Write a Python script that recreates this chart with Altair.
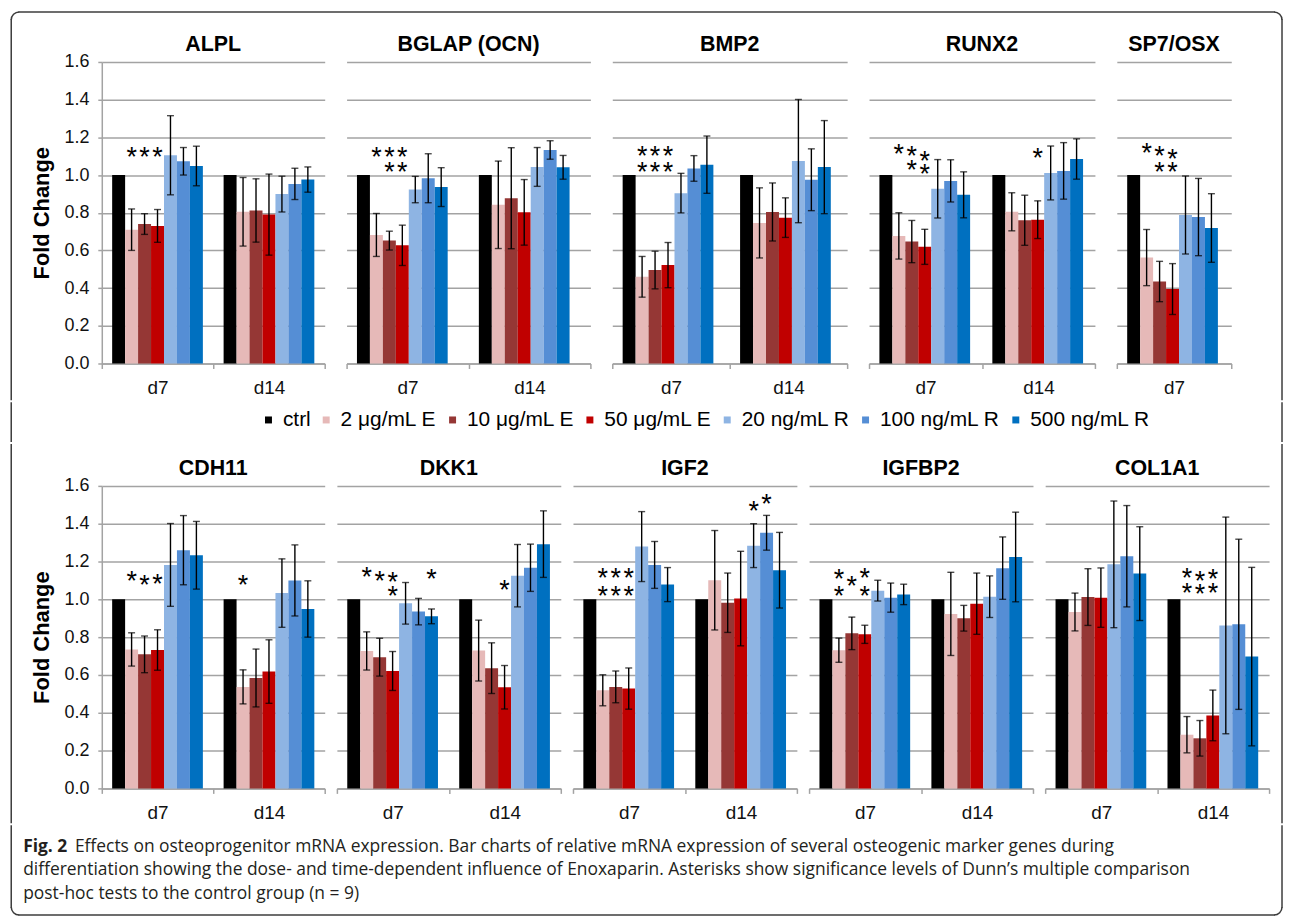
import math
import altair as alt
import pandas as pd

# ---------------- data ----------------
TREATMENTS = ["ctrl", "2 μg/mL E", "10 μg/mL E", "50 μg/mL E",
              "20 ng/mL R", "100 ng/mL R", "500 ng/mL R"]
COLORS = ["#000000", "#E6B9B8", "#953735", "#C00000", "#8EB4E3", "#558ED5", "#0070C0"]

GENES_TOP = ["ALPL", "BGLAP (OCN)", "BMP2", "RUNX2", "SP7/OSX"]
GENES_BOTTOM = ["CDH11", "DKK1", "IGF2", "IGFBP2", "COL1A1"]
Y_TICKS = [0.0, 0.2, 0.4, 0.6, 0.8, 1.0, 1.2, 1.4, 1.6]

ALPL_D7 = [1.0, 0.71, 0.74, 0.73, 1.105, 1.073, 1.048]
ALPL_D7_ERR = [0, 0.11, 0.055, 0.087, 0.21, 0.073, 0.105]
ALPL_D14 = [1.0, 0.805, 0.812, 0.79, 0.899, 0.953, 0.976]
ALPL_D14_ERR = [0, 0.182, 0.168, 0.215, 0.095, 0.083, 0.067]

BGLAP_D7 = [1.0, 0.682, 0.652, 0.627, 0.923, 0.983, 0.936]
BGLAP_D7_ERR = [0, 0.114, 0.05, 0.107, 0.07, 0.13, 0.103]
BGLAP_D14 = [1.0, 0.842, 0.877, 0.802, 1.043, 1.133, 1.041]
BGLAP_D14_ERR = [0, 0.232, 0.268, 0.174, 0.103, 0.049, 0.063]

BMP2_D7 = [1.0, 0.46, 0.496, 0.522, 0.904, 1.035, 1.055]
BMP2_D7_ERR = [0, 0.108, 0.1, 0.12, 0.105, 0.068, 0.152]
BMP2_D14 = [1.0, 0.746, 0.804, 0.774, 1.074, 0.975, 1.042]
BMP2_D14_ERR = [0, 0.186, 0.154, 0.105, 0.327, 0.164, 0.247]

RUNX2_D7 = [1.0, 0.677, 0.647, 0.619, 0.927, 0.969, 0.895]
RUNX2_D7_ERR = [0, 0.123, 0.112, 0.093, 0.155, 0.112, 0.122]
RUNX2_D14 = [1.0, 0.805, 0.76, 0.763, 1.011, 1.022, 1.085]
RUNX2_D14_ERR = [0, 0.101, 0.133, 0.1, 0.143, 0.15, 0.107]

SP7_D7 = [1.0, 0.562, 0.435, 0.395, 0.788, 0.777, 0.719]
SP7_D7_ERR = [0, 0.149, 0.107, 0.135, 0.207, 0.205, 0.182]

CDH11_D7 = [1.0, 0.735, 0.709, 0.732, 1.182, 1.26, 1.233]
CDH11_D7_ERR = [0, 0.088, 0.097, 0.107, 0.219, 0.183, 0.179]
CDH11_D14 = [1.0, 0.537, 0.584, 0.618, 1.033, 1.1, 0.949]
CDH11_D14_ERR = [0, 0.09, 0.153, 0.168, 0.181, 0.188, 0.149]

DKK1_D7 = [1.0, 0.727, 0.694, 0.621, 0.979, 0.935, 0.91]
DKK1_D7_ERR = [0, 0.101, 0.1, 0.103, 0.11, 0.07, 0.039]
DKK1_D14 = [1.0, 0.729, 0.636, 0.535, 1.125, 1.167, 1.292]
DKK1_D14_ERR = [0, 0.161, 0.134, 0.115, 0.165, 0.125, 0.176]

IGF2_D7 = [1.0, 0.519, 0.537, 0.528, 1.279, 1.182, 1.078]
IGF2_D7_ERR = [0, 0.082, 0.084, 0.109, 0.185, 0.124, 0.09]
IGF2_D14 = [1.0, 1.101, 0.982, 1.004, 1.284, 1.352, 1.154]
IGF2_D14_ERR = [0, 0.263, 0.157, 0.25, 0.116, 0.092, 0.2]

IGFBP2_D7 = [1.0, 0.731, 0.82, 0.815, 1.046, 1.009, 1.026]
IGFBP2_D7_ERR = [0, 0.064, 0.086, 0.048, 0.055, 0.077, 0.054]
IGFBP2_D14 = [1.0, 0.923, 0.9, 0.977, 1.014, 1.165, 1.224]
IGFBP2_D14_ERR = [0, 0.22, 0.068, 0.162, 0.11, 0.165, 0.237]

COL1A1_D7 = [1.0, 0.933, 1.012, 1.009, 1.185, 1.228, 1.136]
COL1A1_D7_ERR = [0, 0.1, 0.15, 0.157, 0.335, 0.268, 0.248]
COL1A1_D14 = [1.0, 0.284, 0.265, 0.386, 0.862, 0.868, 0.697]
COL1A1_D14_ERR = [0, 0.096, 0.094, 0.134, 0.573, 0.45, 0.472]

MEANS = {
    "ALPL": {"d7": ALPL_D7, "d14": ALPL_D14},
    "BGLAP (OCN)": {"d7": BGLAP_D7, "d14": BGLAP_D14},
    "BMP2": {"d7": BMP2_D7, "d14": BMP2_D14},
    "RUNX2": {"d7": RUNX2_D7, "d14": RUNX2_D14},
    "SP7/OSX": {"d7": SP7_D7},
    "CDH11": {"d7": CDH11_D7, "d14": CDH11_D14},
    "DKK1": {"d7": DKK1_D7, "d14": DKK1_D14},
    "IGF2": {"d7": IGF2_D7, "d14": IGF2_D14},
    "IGFBP2": {"d7": IGFBP2_D7, "d14": IGFBP2_D14},
    "COL1A1": {"d7": COL1A1_D7, "d14": COL1A1_D14},
}
ERRS = {
    "ALPL": {"d7": ALPL_D7_ERR, "d14": ALPL_D14_ERR},
    "BGLAP (OCN)": {"d7": BGLAP_D7_ERR, "d14": BGLAP_D14_ERR},
    "BMP2": {"d7": BMP2_D7_ERR, "d14": BMP2_D14_ERR},
    "RUNX2": {"d7": RUNX2_D7_ERR, "d14": RUNX2_D14_ERR},
    "SP7/OSX": {"d7": SP7_D7_ERR},
    "CDH11": {"d7": CDH11_D7_ERR, "d14": CDH11_D14_ERR},
    "DKK1": {"d7": DKK1_D7_ERR, "d14": DKK1_D14_ERR},
    "IGF2": {"d7": IGF2_D7_ERR, "d14": IGF2_D14_ERR},
    "IGFBP2": {"d7": IGFBP2_D7_ERR, "d14": IGFBP2_D14_ERR},
    "COL1A1": {"d7": COL1A1_D7_ERR, "d14": COL1A1_D14_ERR},
}

# significance asterisks: (day, treatment index, height)
STARS = {
    "ALPL": [("d7", 1, 1.13), ("d7", 2, 1.13), ("d7", 3, 1.13)],
    "BGLAP (OCN)": [("d7", 1, 1.131), ("d7", 2, 1.131), ("d7", 3, 1.131),
                    ("d7", 2, 1.055), ("d7", 3, 1.055)],
    "BMP2": [("d7", 1, 1.136), ("d7", 2, 1.136), ("d7", 3, 1.136),
             ("d7", 1, 1.055), ("d7", 2, 1.055), ("d7", 3, 1.055)],
    "RUNX2": [("d7", 1, 1.149), ("d7", 2, 1.14), ("d7", 2, 1.061),
              ("d7", 3, 1.11), ("d7", 3, 1.04), ("d14", 3, 1.126)],
    "SP7/OSX": [("d7", 1, 1.154), ("d7", 2, 1.14), ("d7", 2, 1.055),
                ("d7", 3, 1.12), ("d7", 3, 1.051)],
    "CDH11": [("d7", 1, 1.133), ("d7", 2, 1.112), ("d7", 3, 1.118), ("d14", 1, 1.112)],
    "DKK1": [("d7", 1, 1.157), ("d7", 2, 1.134), ("d7", 3, 1.127), ("d7", 3, 1.056),
             ("d7", 6, 1.143), ("d14", 3, 1.085)],
    "IGF2": [("d7", 1, 1.147), ("d7", 2, 1.147), ("d7", 3, 1.147),
             ("d7", 1, 1.055), ("d7", 2, 1.055), ("d7", 3, 1.055),
             ("d14", 4, 1.502), ("d14", 5, 1.542)],
    "IGFBP2": [("d7", 1, 1.144), ("d7", 1, 1.056), ("d7", 2, 1.107),
               ("d7", 3, 1.148), ("d7", 3, 1.056)],
    "COL1A1": [("d14", 1, 1.15), ("d14", 2, 1.136), ("d14", 3, 1.146),
               ("d14", 1, 1.071), ("d14", 2, 1.063), ("d14", 3, 1.068)],
}

CAPTION_FIG = "Fig. 2"
CAPTION_1 = ("Effects on osteoprogenitor mRNA expression. Bar charts of relative mRNA "
             "expression of several osteogenic marker genes during")
CAPTION_2 = ("differentiation showing the dose- and time-dependent influence of Enoxaparin. "
             "Asterisks show significance levels of Dunn’s multiple comparison")
CAPTION_3 = "post-hoc tests to the control group (n = 9)"

# ---------------- style ----------------
FONT = "Liberation Sans"
CAP_FONT = "Open Sans"
GRID = "#a3a3a3"
FRAME = "#3c3c3c"
SW = 1.5
ONE = alt.Data(values=[{"k": 0}])

# frame edges relative to the common plot origin (left edge of first panel)
FX0, FX1 = -91, 1186


def frame_layers(y0, y1, top=False, bottom=False, x0=FX0, x1=FX1, r=8):
    h = SW / 2
    ya = y0 + h
    yb = y1 - h
    layers = []

    def rule(**enc):
        return alt.Chart(ONE).mark_rule(color=FRAME, strokeWidth=SW,
                                        strokeCap="square").encode(**enc)

    def arc(cx, cy, t1, t2):
        return alt.Chart(ONE).mark_arc(color=FRAME, radius=r + h, radius2=r - h,
                                       theta=t1, theta2=t2).encode(
            x=alt.value(cx), y=alt.value(cy))

    ys = ya + r if top else ya
    ye = yb - r if bottom else yb
    layers.append(rule(x=alt.value(x0), y=alt.value(ys), y2=alt.value(ye)))
    layers.append(rule(x=alt.value(x1), y=alt.value(ys), y2=alt.value(ye)))
    if top:
        layers.append(rule(x=alt.value(x0 + r), x2=alt.value(x1 - r), y=alt.value(ya)))
        layers.append(arc(x0 + r, ya + r, 1.5 * math.pi, 2 * math.pi))
        layers.append(arc(x1 - r, ya + r, 0, 0.5 * math.pi))
    if bottom:
        layers.append(rule(x=alt.value(x0 + r), x2=alt.value(x1 - r), y=alt.value(yb)))
        layers.append(arc(x0 + r, yb - r, math.pi, 1.5 * math.pi))
        layers.append(arc(x1 - r, yb - r, 0.5 * math.pi, math.pi))
    return layers


def panel(gene, width, height, first=False, frame=None):
    days = list(MEANS[gene].keys())
    rows = []
    for d in days:
        for t, m, e in zip(TREATMENTS, MEANS[gene][d], ERRS[gene][d]):
            rows.append({"day": d, "treat": t, "mean": m, "lo": m - e, "hi": m + e, "err": e})
    df = pd.DataFrame(rows)

    x = alt.X("day:N", sort=days, title=None,
              scale=alt.Scale(domain=days, paddingInner=0, paddingOuter=0),
              axis=alt.Axis(labelAngle=0, tickBand="extent", tickSize=5, tickWidth=SW,
                            tickColor=GRID, domainColor=GRID, domainWidth=SW,
                            labelFontSize=19, labelPadding=10, labelColor="#111",
                            grid=False))
    xo = alt.XOffset("treat:N", sort=TREATMENTS,
                     scale=alt.Scale(domain=TREATMENTS, paddingOuter=0.8, paddingInner=0))
    if first:
        yax = alt.Axis(values=Y_TICKS, format=".1f", title="Fold Change", titleFontSize=22,
                       titleFontWeight="bold", titleColor="#000", titlePadding=11,
                       labelFontSize=18, labelPadding=9, labelColor="#111",
                       domain=True, domainColor=GRID, domainWidth=SW,
                       ticks=True, tickSize=4, tickColor=GRID, tickWidth=SW,
                       grid=True, gridColor=GRID, gridWidth=SW)
    else:
        yax = alt.Axis(values=Y_TICKS, title=None, labels=False, ticks=False, domain=False,
                       grid=True, gridColor=GRID, gridWidth=SW)
    ysc = alt.Scale(domain=[0, 1.6], nice=False)

    base = alt.Chart(df)
    bars = base.mark_bar().encode(
        x=x, xOffset=xo,
        y=alt.Y("mean:Q", scale=ysc, axis=yax, stack=False),
        color=alt.Color("treat:N", scale=alt.Scale(domain=TREATMENTS, range=COLORS), legend=None),
    )
    eb = base.transform_filter("datum.err > 0")
    err_rule = eb.mark_rule(color="#000", strokeWidth=1.4).encode(
        x=x, xOffset=xo, y=alt.Y("lo:Q", scale=ysc, axis=yax), y2="hi:Q")
    cap_lo = eb.mark_tick(color="#000", size=7, thickness=1.4).encode(
        x=x, xOffset=xo, y=alt.Y("lo:Q", scale=ysc, axis=yax))
    cap_hi = eb.mark_tick(color="#000", size=7, thickness=1.4).encode(
        x=x, xOffset=xo, y=alt.Y("hi:Q", scale=ysc, axis=yax))
    title = alt.Chart(ONE).mark_text(
        text=gene, font=FONT, fontSize=21.5, fontWeight="bold", color="#000",
        align="center", baseline="middle").encode(
        x=alt.value(width / 2), y=alt.value(-17))
    layers = [bars, err_rule, cap_lo, cap_hi, title]

    srows = [{"day": d, "treat": TREATMENTS[i], "sy": v} for d, i, v in STARS.get(gene, [])]
    if srows:
        stars = alt.Chart(pd.DataFrame(srows)).mark_text(
            text="*", font=FONT, fontSize=27, baseline="alphabetic", dy=16, color="#000"
        ).encode(x=x, xOffset=xo, y=alt.Y("sy:Q", scale=ysc, axis=yax))
        layers.append(stars)
    if frame:
        layers += frame_layers(**frame)
    return alt.layer(*layers).properties(width=width, height=height)


TOP_W = [224, 245, 236, 227, 115]
BOT_W = [224, 225, 225, 225, 225]
TOP_H = 303
BOT_H = 304

top_panels = []
for i, (g, w) in enumerate(zip(GENES_TOP, TOP_W)):
    fr = dict(y0=-51, y1=340, top=True) if i == 0 else None
    top_panels.append(panel(g, w, TOP_H, first=(i == 0), frame=fr))
bottom_panels = []
for i, (g, w) in enumerate(zip(GENES_BOTTOM, BOT_W)):
    fr = dict(y0=-42, y1=339) if i == 0 else None
    bottom_panels.append(panel(g, w, BOT_H, first=(i == 0), frame=fr))

top_row = alt.hconcat(*top_panels, spacing=22, bounds="flush")
bottom_row = alt.hconcat(*bottom_panels, spacing=12.25, bounds="flush")

legend_marks = alt.Chart(pd.DataFrame({"treat": TREATMENTS})).mark_square(
    opacity=0, size=1).encode(
    x=alt.value(0), y=alt.value(0),
    color=alt.Color("treat:N", sort=TREATMENTS,
                    scale=alt.Scale(domain=TREATMENTS, range=COLORS),
                    legend=alt.Legend(title=None, orient="none", legendX=157, legendY=7,
                                      direction="horizontal", columns=7,
                                      symbolType="square", symbolSize=49, symbolOpacity=1,
                                      symbolStrokeWidth=0, labelFont=FONT, labelFontSize=21,
                                      labelColor="#000", labelOffset=4, columnPadding=5,
                                      labelLimit=400)))
legend_chart = alt.layer(legend_marks, *frame_layers(0, 40)).properties(
    width=1000, height=40)


def cap_text(txt, x, y, bold=False):
    return alt.Chart(ONE).mark_text(
        text=txt, font=CAP_FONT, fontSize=17.5, fontWeight="bold" if bold else "normal",
        align="left", baseline="middle", color="#231f20").encode(
        x=alt.value(x), y=alt.value(y))


CX = 22 - 101
caption = alt.layer(
    cap_text(CAPTION_FIG, CX, 22, bold=True),
    cap_text(CAPTION_1, CX + 52, 22),
    cap_text(CAPTION_2, CX, 45.5),
    cap_text(CAPTION_3, CX, 69.5),
    *frame_layers(0, 91, bottom=True),
).properties(width=1000, height=91)

chart = alt.vconcat(top_row, legend_chart, bottom_row, caption, spacing=0).resolve_scale(
    color="independent"
).properties(
    padding={"left": 1.25, "top": 0, "right": 0, "bottom": 0}
).configure_view(strokeWidth=0).configure_axis(labelFont=FONT, titleFont=FONT)

chart.save("out.html", embed_options={"renderer": "svg", "actions": False})
